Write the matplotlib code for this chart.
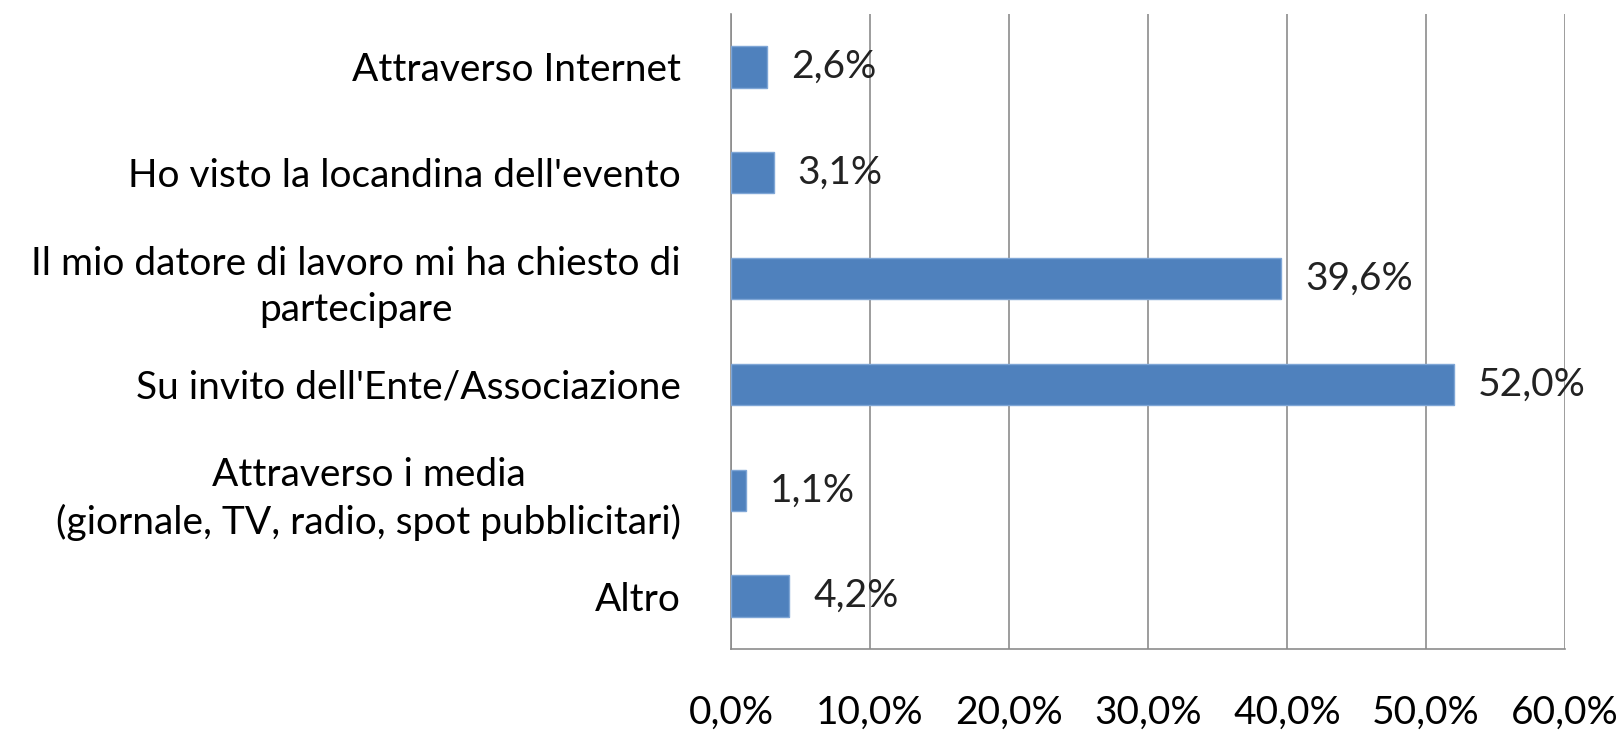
import matplotlib
matplotlib.use("Agg")
import matplotlib.pyplot as plt
from matplotlib.ticker import FuncFormatter

# Categories from top to bottom
categories = [
    "Attraverso Internet",
    "Ho visto la locandina dell'evento",
    "Il mio datore di lavoro mi ha chiesto di\npartecipare",
    "Su invito dell'Ente/Associazione",
    "Attraverso i media\n(giornale, TV, radio, spot pubblicitari)",
    "Altro",
]
values = [2.6, 3.1, 39.6, 52.0, 1.1, 4.2]
x_ticks = [0, 10, 20, 30, 40, 50, 60]

plt.rcParams['font.family'] = ['Lato', 'DejaVu Sans']
FS = 28

fig = plt.figure(figsize=(16.23, 7.33), dpi=100)
ax = fig.add_axes([731 / 1623, 1 - 649 / 733, (1565 - 731) / 1623, (649 - 14) / 733])

pos = list(range(len(categories)))
ax.barh(pos, values, height=0.39, color='#4F81BD', edgecolor='#7FA6D6', linewidth=1, zorder=3)

for p, v in zip(pos, values):
    ax.text(v + 1.7, p, f"{v:.1f}%".replace('.', ','), va='center', ha='left',
            fontsize=FS, color='#222222', zorder=4)

ax.set_ylim(len(categories) - 0.5, -0.5)
ax.set_xlim(0, 60)
ax.set_yticks(pos)
ax.set_yticklabels(categories, fontsize=FS, multialignment='center', linespacing=1.35)
ax.set_xticks(x_ticks)
ax.xaxis.set_major_formatter(FuncFormatter(lambda x, _: f"{x:.1f}%".replace('.', ',')))
ax.tick_params(axis='x', labelsize=FS, length=0, pad=33)
ax.tick_params(axis='y', length=0, pad=36)

ax.grid(axis='x', color='#8c8c8c', linewidth=1.2, zorder=0)
for s in ['top', 'right']:
    ax.spines[s].set_visible(False)
for s in ['left', 'bottom']:
    ax.spines[s].set_color('#8c8c8c')
    ax.spines[s].set_linewidth(1.2)

fig.savefig("out.png", dpi=100)
